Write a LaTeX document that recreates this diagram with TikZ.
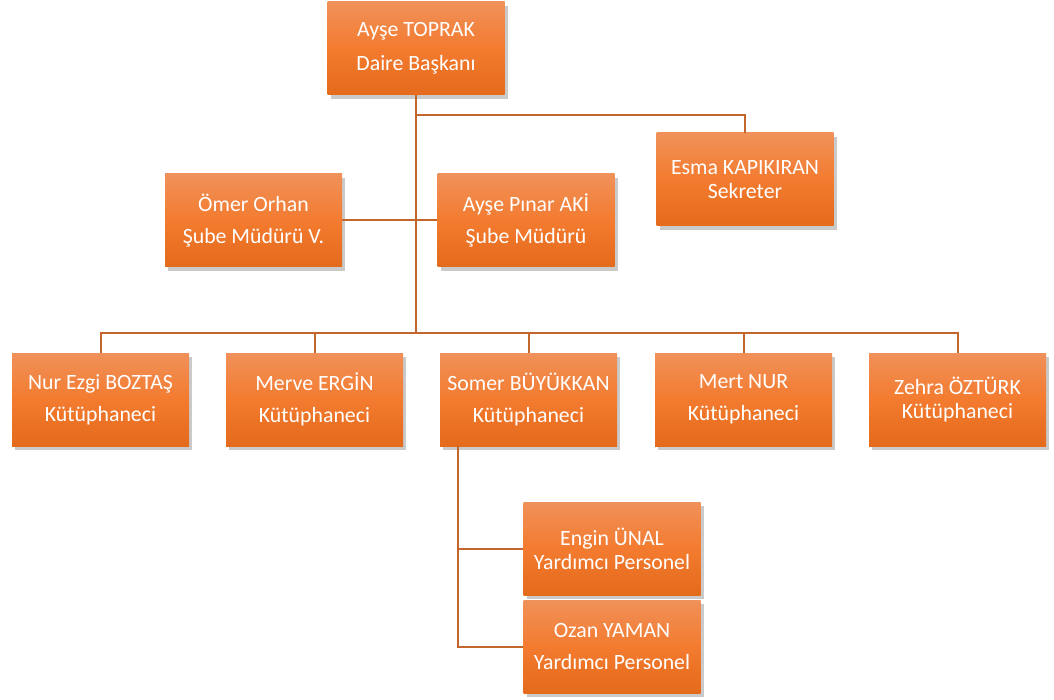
\documentclass[tikz,border=0pt]{standalone}
\usepackage{fontspec}
\setmainfont{Carlito}
\usetikzlibrary{shadows}
\definecolor{boxtop}{HTML}{F0915A}
\definecolor{boxmid}{HTML}{F37B2F}
\definecolor{boxbot}{HTML}{E46A1C}
\definecolor{linkcol}{HTML}{C4652C}
\begin{document}
\begin{tikzpicture}[x=1pt,y=-1pt,
    person/.style={rectangle, minimum width=177pt, minimum height=93pt, inner sep=0pt,
      top color=boxtop, bottom color=boxbot, middle color=boxmid, text=white, align=center,
      font=\fontsize{21.8}{32}\selectfont,
      drop shadow={shadow xshift=3pt, shadow yshift=-4pt, opacity=0.35, fill=black!60}},
    tight/.style={font=\fontsize{21.8}{24}\selectfont},
    link/.style={draw=linkcol, line width=2pt}]
  \useasboundingbox (0,0) rectangle (1054,700);
  % boxes
  \node[person, font=\fontsize{21.8}{34}\selectfont] (boss) at (416,48.5) {Ayşe TOPRAK\\Daire Başkanı};
  \node[person, tight] (esma) at (745,179.5) {Esma KAPIKIRAN\\Sekreter};
  \node[person] (omer) at (253.5,220.5) {Ömer Orhan\\Şube Müdürü V.};
  \node[person] (pinar) at (526,220.5) {Ayşe Pınar AKİ\\Şube Müdürü};
  \node[person] (nur) at (100.5,399.5) {Nur Ezgi BOZTAŞ\\Kütüphaneci};
  \node[person] (merve) at (314.5,399.5) {Merve ERGİN\\Kütüphaneci};
  \node[person] (somer) at (528.5,399.5) {Somer BÜYÜKKAN\\Kütüphaneci};
  \node[person] (mert) at (743.5,399.5) {Mert NUR\\Kütüphaneci};
  \node[person, tight] (zehra) at (957.5,399.5) {Zehra ÖZTÜRK\\Kütüphaneci};
  \node[person, tight] (engin) at (612,548.5) {Engin ÜNAL\\Yardımcı Personel};
  \node[person] (ozan) at (612,646.5) {Ozan YAMAN\\Yardımcı Personel};
  % joints
  \coordinate (sek) at (416,115);
  \coordinate (bus) at (416,333);
  \coordinate (sub) at (458,446);
  % connectors
  \draw[link] (boss) -- (bus);
  \draw[link] (sek) -| (esma.north);
  \draw[link] (omer.east) -- (pinar.west);
  \foreach \who in {nur,merve,somer,mert,zehra}
    \draw[link] (bus) -| (\who.north);
  \draw[link] (sub) |- (engin.west);
  \draw[link] (sub) |- (ozan.west);
\end{tikzpicture}
\end{document}
